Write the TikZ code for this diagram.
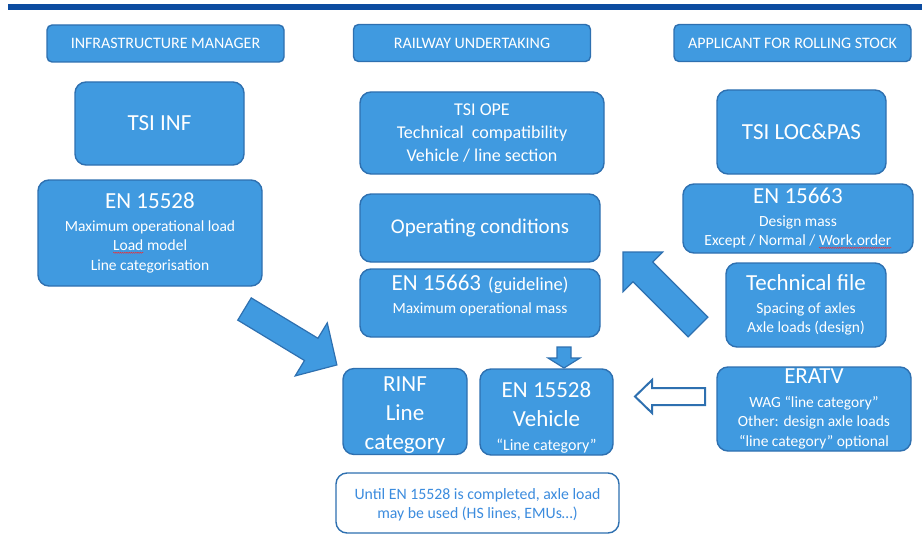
\documentclass[tikz,border=0pt]{standalone}
\usepackage{fontspec}
\setmainfont{Carlito}
\usetikzlibrary{decorations.pathmorphing}
\definecolor{boxfill}{RGB}{64,154,224}
\definecolor{boxline}{RGB}{46,112,176}
\definecolor{topbar}{RGB}{12,76,160}
\definecolor{notetext}{RGB}{60,140,222}
\newcommand{\bigtxt}{\fontsize{23}{26}\selectfont}
\newcommand{\squig}[1]{\tikz[baseline=(sq.base)]{%
  \node[inner sep=0pt, outer sep=0pt, minimum size=0pt, draw=none, fill=none, sharp corners] (sq) {#1};
  \draw[red!85!white, line width=0.4pt, sharp corners, decorate, decoration={snake, amplitude=0.6pt, segment length=2.2pt}]
    ([yshift=-2pt]sq.base west) -- ([yshift=-2pt]sq.base east);}}
\newcommand{\blockarrow}[7][]{%
  \begin{scope}[shift={#2}, rotate=#3]
    \draw[barrow,#1] (0,-#5) -- (#4-#7,-#5) -- (#4-#7,-#6) -- (#4,0) -- (#4-#7,#6) -- (#4-#7,#5) -- (0,#5) -- cycle;
  \end{scope}}

\begin{document}
\begin{tikzpicture}[x=1pt, y=-1pt,
        box/.style={draw=boxline, line width=1.4pt, fill=boxfill, text=white, rounded corners=11pt,
          align=center, inner sep=1pt, font=\fontsize{15.5}{19.5}\selectfont},
        head/.style={box, rounded corners=5pt, minimum width=237, minimum height=37, font=\fontsize{16}{18}\selectfont},
        barrow/.style={draw=boxline, line width=1.2pt, fill=boxfill, line join=miter}]
      \tikzstyle{note} = [draw=boxline, line width=1.4pt, fill=white, rounded corners=11pt, text=notetext,
        align=center, font=\fontsize{15.8}{19}\selectfont]
      \useasboundingbox (0,0) rectangle (922,535);
      \fill[topbar] (8,4) rectangle (922,10.5);

      \node (im) [head] at (165.5,43.5) {INFRASTRUCTURE MANAGER};
      \node (ru) [head] at (472,43) {RAILWAY UNDERTAKING};
      \node (ap) [head] at (792.5,43) {APPLICANT FOR ROLLING STOCK};

      \node (tsiinf) [box, minimum width=169, minimum height=83, font=\bigtxt] at (159.5,123.5) {TSI INF};
      \node (en15528im) [box, minimum width=224, minimum height=106] at (150,233)
        {{\bigtxt EN 15528}\\[3pt] Maximum operational load\\ \squig{Load} model\\ Line categorisation};

      \node (tsiope) [box, minimum width=244, minimum height=82, font=\fontsize{18}{23}\selectfont] at (482,133)
        {TSI OPE\\ Technical\ \ compatibility\\ Vehicle / line section};
      \node (opcond) [box, minimum width=240, minimum height=68, font=\fontsize{21}{24}\selectfont] at (480,228) {Operating conditions};
      \node (en15663ru) [box, minimum width=240, minimum height=68] at (480,303)
        {{\bigtxt EN 15663}\ \ {\fontsize{18.5}{20}\selectfont(guideline)}\\[3pt] Maximum operational mass\rule[-18pt]{0pt}{0pt}};
      \node (rinf) [box, minimum width=124, minimum height=85, font=\fontsize{23}{29}\selectfont] at (405,411.5)
        {\rule{0pt}{22pt}RINF\\ Line\\ category};
      \node (en15528v) [box, minimum width=133, minimum height=86, font=\fontsize{23}{29}\selectfont] at (546.5,412)
        {\rule{0pt}{26pt}EN 15528\\ Vehicle\\[-5pt] {\fontsize{16}{18}\selectfont “Line category”}};
      \node (until) [note, minimum width=283, minimum height=60] at (477.5,503)
        {\rule{0pt}{15pt}Until EN 15528 is completed, axle load\\ may be used (HS lines, EMUs…)};

      \node (tsiloc) [box, minimum width=169, minimum height=84, font=\bigtxt] at (801.5,132) {TSI LOC\&PAS};
      \node (en15663ap) [box, minimum width=230, minimum height=69] at (798,218.5)
        {{\bigtxt EN 15663}\\[3pt] Design mass\\ Except / Normal / \squig{Work.order}};
      \node (techfile) [box, minimum width=160, minimum height=84] at (806,305)
        {{\bigtxt Technical file}\\[3pt] Spacing of axles\\ Axle loads (design)};
      \node (eratv) [box, minimum width=194, minimum height=84, inner sep=0pt] at (814,409)
        {{\bigtxt ERATV}\\[4pt] WAG “line category”\\ Other: design axle loads\\ “line category” optional};

      \blockarrow{(244.5,309)}{-31.2}{108}{13}{31}{30}
      \blockarrow{(698,327)}{135}{106}{14}{28}{28}
      \blockarrow{(564,347)}{-90}{21}{7}{16}{10}
      \blockarrow[fill=white, line width=2pt]{(705,396.5)}{180}{70}{8.5}{16.5}{17}
\end{tikzpicture}
\end{document}
